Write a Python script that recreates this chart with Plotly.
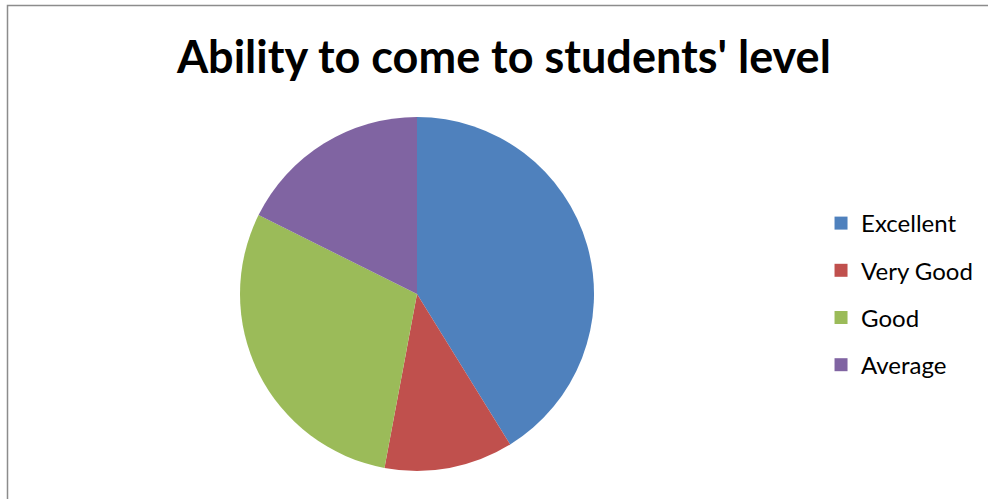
import plotly.graph_objects as go

categories = ["Excellent", "Very Good", "Good", "Average"]
values = [7, 2, 5, 3]
colors = ["#4F81BD", "#C0504D", "#9BBB59", "#8064A2"]
title_text = "Ability to come to students' level"

W, H = 988, 499
cx, cy, r = 417, 294, 177

fig = go.Figure()
fig.add_trace(go.Pie(
    labels=categories, values=values, sort=False, direction="clockwise",
    rotation=0, textinfo="none", hoverinfo="label+value+percent",
    marker=dict(colors=colors, line=dict(width=0)),
    showlegend=False,
    domain=dict(x=[(cx - r) / W, (cx + r) / W],
                y=[(H - cy - r) / H, (H - cy + r) / H]),
))
for i, (c, col) in enumerate(zip(categories, colors)):
    fig.add_trace(go.Scatter(
        x=[None], y=[None], mode="markers", name=c,
        legendgroup=f"g{i}",
        marker=dict(symbol="square", size=13, color=col),
    ))

fig.update_layout(
    width=W, height=H,
    margin=dict(l=0, r=0, t=0, b=0),
    paper_bgcolor="white", plot_bgcolor="white",
    font=dict(family="Lato, 'Open Sans', sans-serif", color="black"),
    title=dict(text="<b>" + title_text + "</b>", x=0.51, xanchor="center",
               y=1 - 57 / H, yanchor="middle",
               font=dict(size=45, family="Lato, sans-serif", color="black")),
    xaxis=dict(visible=False), yaxis=dict(visible=False),
    legend=dict(x=0.831, xanchor="left", y=1 - 294 / H, yanchor="middle",
                font=dict(size=24, family="Lato, sans-serif", color="black"),
                tracegroupgap=13, itemclick=False, bgcolor="rgba(0,0,0,0)"),
    shapes=[dict(type="rect", xref="paper", yref="paper",
                 x0=7.5 / W, x1=1.05, y0=-0.05, y1=1 - 5.5 / H,
                 line=dict(color="#8C8C8C", width=1.5), layer="below")],
)

fig.write_html("out.html",
               config={"displayModeBar": False},
               post_script="document.body.style.margin='0';document.body.style.overflow='hidden';")
